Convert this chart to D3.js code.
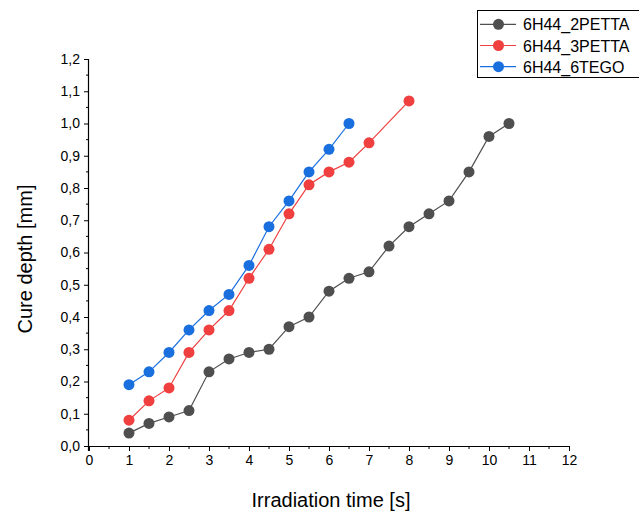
<!DOCTYPE html>
<html>
<head>
<meta charset="utf-8">
<script src="https://cdn.jsdelivr.net/npm/d3@7/dist/d3.min.js"></script>
<style>
  html, body { margin: 0; padding: 0; background: #fff; }
  svg { display: block; font-family: "Liberation Sans", Arial, sans-serif; }
</style>
</head>
<body>
<svg id="chart" width="639" height="511"></svg>
<script>
// Irradiation times [s] and cure depths [mm] per resin formulation
const time2PETTA = [1, 1.5, 2, 2.5, 3, 3.5, 4, 4.5, 5, 5.5, 6, 6.5, 7, 7.5, 8, 8.5, 9, 9.5, 10, 10.5];
const depth2PETTA = [0.04, 0.07, 0.09, 0.11, 0.23, 0.27, 0.29, 0.30, 0.37, 0.40, 0.48, 0.52, 0.54, 0.62, 0.68, 0.72, 0.76, 0.85, 0.96, 1.00];

const time3PETTA = [1, 1.5, 2, 2.5, 3, 3.5, 4, 4.5, 5, 5.5, 6, 6.5, 7, 8];
const depth3PETTA = [0.08, 0.14, 0.18, 0.29, 0.36, 0.42, 0.52, 0.61, 0.72, 0.81, 0.85, 0.88, 0.94, 1.07];

const time6TEGO = [1, 1.5, 2, 2.5, 3, 3.5, 4, 4.5, 5, 5.5, 6, 6.5];
const depth6TEGO = [0.19, 0.23, 0.29, 0.36, 0.42, 0.47, 0.56, 0.68, 0.76, 0.85, 0.92, 1.00];

const seriesNames = ["6H44_2PETTA", "6H44_3PETTA", "6H44_6TEGO"];
const seriesColors = ["#4f4f4f", "#ef3f3f", "#1a6fdf"];

const xTicks = d3.range(0, 13, 1);
const yTicks = [0, 0.1, 0.2, 0.3, 0.4, 0.5, 0.6, 0.7, 0.8, 0.9, 1.0, 1.1, 1.2];

const series = [
  { name: seriesNames[0], color: seriesColors[0], x: time2PETTA, y: depth2PETTA },
  { name: seriesNames[1], color: seriesColors[1], x: time3PETTA, y: depth3PETTA },
  { name: seriesNames[2], color: seriesColors[2], x: time6TEGO, y: depth6TEGO }
];

const svg = d3.select("#chart");
const plot = { left: 89, right: 569, top: 59, bottom: 446 };

const x = d3.scaleLinear().domain([0, 12]).range([plot.left, plot.right]);
const y = d3.scaleLinear().domain([0, 1.2]).range([plot.bottom, plot.top]);
const fmt = v => d3.format(".1f")(v).replace(".", ",");

// Minor ticks
const gMinor = svg.append("g");
gMinor.selectAll("line.xm").data(d3.range(0.5, 12, 1)).join("line")
  .attr("x1", d => x(d)).attr("x2", d => x(d))
  .attr("y1", plot.bottom).attr("y2", plot.bottom + 3)
  .attr("stroke", "#000").attr("stroke-width", 1);
gMinor.selectAll("line.ym").data(d3.range(0.05, 1.2, 0.1)).join("line")
  .attr("x1", plot.left - 3).attr("x2", plot.left)
  .attr("y1", d => y(d)).attr("y2", d => y(d))
  .attr("stroke", "#000").attr("stroke-width", 1);

// X axis
const xAxis = svg.append("g")
  .attr("transform", `translate(0,${plot.bottom})`)
  .call(d3.axisBottom(x).tickValues(xTicks).tickFormat(d3.format("d")).tickSize(5).tickSizeOuter(0).tickPadding(4));
xAxis.select(".domain").attr("d", `M${plot.left - 4},0.5H${plot.right}`).attr("stroke-width", 1.2);
xAxis.selectAll("text").attr("font-size", 14).attr("fill", "#000");

// Y axis
const yAxis = svg.append("g")
  .attr("transform", `translate(${plot.left},0)`)
  .call(d3.axisLeft(y).tickValues(yTicks).tickFormat(fmt).tickSize(5).tickSizeOuter(0).tickPadding(4));
yAxis.select(".domain").attr("d", `M-0.5,${plot.top}V${plot.bottom + 5}`).attr("stroke-width", 1.2);
yAxis.selectAll("text").attr("font-size", 14).attr("fill", "#000");

// Axis titles
svg.append("text")
  .attr("x", 331).attr("y", 507)
  .attr("text-anchor", "middle").attr("font-size", 20).attr("fill", "#000")
  .text("Irradiation time [s]");
svg.append("text")
  .attr("transform", `translate(32,259) rotate(-90)`)
  .attr("text-anchor", "middle").attr("font-size", 20).attr("fill", "#000")
  .text("Cure depth [mm]");

// Series lines and markers
const line = d3.line().x(d => x(d[0])).y(d => y(d[1]));
series.forEach(s => {
  const pts = s.x.map((t, i) => [t, s.y[i]]);
  const g = svg.append("g");
  g.append("path").datum(pts)
    .attr("d", line).attr("fill", "none")
    .attr("stroke", s.color).attr("stroke-width", 1.2);
  g.selectAll("circle").data(pts).join("circle")
    .attr("cx", d => x(d[0])).attr("cy", d => y(d[1]))
    .attr("r", 5.5).attr("fill", s.color);
});

// Legend
const lg = svg.append("g");
lg.append("rect")
  .attr("x", 477.5).attr("y", 10.5).attr("width", 170).attr("height", 67)
  .attr("fill", "#fff").attr("stroke", "#000").attr("stroke-width", 1);
series.forEach((s, i) => {
  const cy = 24.3 + i * 21.2;
  lg.append("line").attr("x1", 480).attr("x2", 516).attr("y1", cy).attr("y2", cy)
    .attr("stroke", s.color).attr("stroke-width", 1.2);
  lg.append("circle").attr("cx", 498.5).attr("cy", cy).attr("r", 5.5).attr("fill", s.color);
  lg.append("text").attr("x", 523).attr("y", cy + 6)
    .attr("font-size", 16).attr("fill", "#000").text(s.name);
});
</script>
</body>
</html>
